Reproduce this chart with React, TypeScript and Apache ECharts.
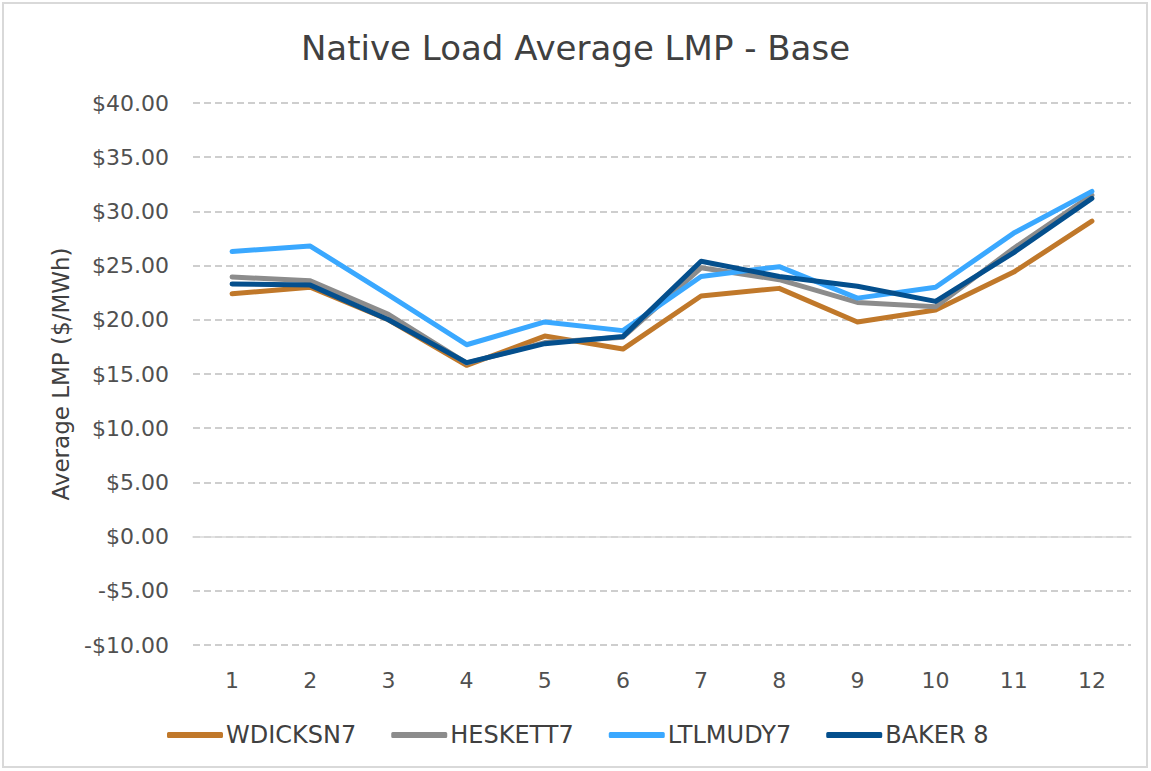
import React, { useEffect, useRef } from "react";
import * as echarts from "echarts";

const months = ["1", "2", "3", "4", "5", "6", "7", "8", "9", "10", "11", "12"];
const wdicksn7 = [22.4, 23.0, 20.0, 15.8, 18.5, 17.3, 22.2, 22.9, 19.8, 20.9, 24.4, 29.1];
const heskett7 = [23.95, 23.6, 20.5, 16.0, 17.9, 18.4, 24.8, 23.7, 21.6, 21.2, 26.6, 31.5];
const ltlmudy7 = [26.3, 26.8, 22.3, 17.7, 19.8, 19.0, 24.0, 24.9, 22.0, 23.0, 28.0, 31.85];
const baker8 = [23.3, 23.2, 20.0, 16.05, 17.8, 18.45, 25.4, 24.0, 23.1, 21.7, 26.2, 31.2];

const seriesNames = ["WDICKSN7", "HESKETT7", "LTLMUDY7", "BAKER 8"];
const seriesColors = ["#C0782A", "#8C8C8C", "#3AA8FF", "#044F8D"];
const seriesData = [wdicksn7, heskett7, ltlmudy7, baker8];

const FONT = "'DejaVu Sans', sans-serif";

export default function App() {
  const ref = useRef<HTMLDivElement>(null);
  useEffect(() => {
    if (!ref.current) return;
    const chart = echarts.init(ref.current, undefined, { renderer: "svg" });
    chart.setOption({
      animation: false,
      backgroundColor: "#ffffff",
      title: {
        text: "Native Load Average LMP - Base",
        left: "center",
        top: 26,
        textStyle: { fontFamily: FONT, fontSize: 34, fontWeight: "normal", color: "#404040" },
      },
      graphic: [
        {
          type: "rect",
          shape: { x: 3, y: 3, width: 1144, height: 764 },
          style: { fill: "none", stroke: "#d9d9d9", lineWidth: 2 },
          silent: true,
        },
      ],
      legend: {
        left: 162,
        top: 718,
        itemWidth: 56,
        itemHeight: 6,
        itemGap: 35,
        icon: "roundRect",
        textStyle: { fontFamily: FONT, fontSize: 24, color: "#404040", padding: [0, 0, 0, -2] },
        data: seriesNames,
      },
      grid: { left: 193, right: 20, top: 103, bottom: 126, containLabel: false },
      xAxis: {
        type: "category",
        data: months,
        boundaryGap: true,
        axisLine: { show: true, onZero: true, lineStyle: { color: "#d9d9d9", width: 1.5 } },
        axisTick: { show: false },
        axisLabel: {
          fontFamily: FONT,
          fontSize: 22,
          color: "#505050",
          margin: 24,
        },
        position: "bottom",
      },
      yAxis: {
        type: "value",
        min: -10,
        max: 40,
        interval: 5,
        name: "Average LMP ($/MWh)",
        nameLocation: "middle",
        nameRotate: 90,
        nameGap: 121,
        nameTextStyle: { fontFamily: FONT, fontSize: 23, color: "#404040" },
        axisLine: { show: false },
        axisTick: { show: false },
        axisLabel: {
          fontFamily: FONT,
          fontSize: 22,
          color: "#505050",
          margin: 24,
          formatter: (v: number) => (v < 0 ? "-$" + Math.abs(v).toFixed(2) : "$" + v.toFixed(2)),
        },
        splitLine: {
          show: true,
          lineStyle: { color: "#bfbfbf", width: 1.5, type: [7, 4] },
        },
      },
      series: seriesNames.map((name, i) => ({
        name,
        type: "line",
        data: seriesData[i],
        symbol: "none",
        lineStyle: { color: seriesColors[i], width: 5, cap: "round", join: "round" },
        itemStyle: { color: seriesColors[i] },
        z: 2 + i,
      })),
    });
    return () => chart.dispose();
  }, []);
  return (
    <div
      ref={ref}
      style={{ position: "absolute", left: 0, top: 0, width: 1151, height: 771 }}
    />
  );
}
